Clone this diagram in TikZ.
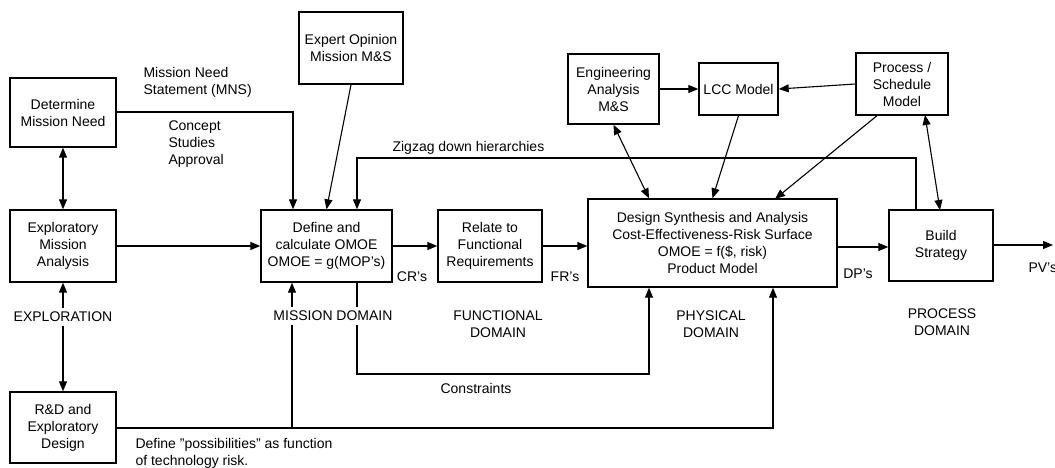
\documentclass[tikz,border=0pt]{standalone}
\usepackage{fontspec}
\setmainfont{Liberation Sans}
\usetikzlibrary{arrows.meta,positioning}

\begin{document}
\begin{tikzpicture}[x=1pt, y=-1pt, line width=1.1pt, >={Triangle[length=10pt,width=8pt]},
box node/.style={draw, line width=1.4pt, align=center, inner sep=0pt, font=\fontsize{14}{17}\selectfont},
text node/.style={inner sep=0pt, font=\fontsize{14}{17}\selectfont},
domain node/.style={align=center, fill=white, inner sep=4pt, font=\fontsize{14}{17}\selectfont}]
\useasboundingbox (0,0) rectangle (1055,468);
\begin{scope}
\node[box node, minimum width=106pt, minimum height=69pt] (need) at (63,112.5) {Determine\\Mission Need};
\node[box node, minimum width=106pt, minimum height=72pt] (explore) at (63,246) {Exploratory\\Mission\\Analysis};
\node[box node, minimum width=106pt, minimum height=71pt] (rnd) at (63,427.5) {R\&D and\\Exploratory\\Design};
\node[box node, minimum width=104pt, minimum height=72pt] (expert) at (351,48) {Expert Opinion\\Mission M\&S};
\node[box node, minimum width=131pt, minimum height=72pt] (omoe) at (326.5,246) {Define and\\calculate OMOE\\OMOE = g(MOP's)};
\node[box node, minimum width=104pt, minimum height=72pt] (relate) at (490,246) {Relate to\\Functional\\Requirements};
\node[box node, minimum width=249pt, minimum height=88pt] (design) at (712.5,243) {Design Synthesis and Analysis\\Cost-Effectiveness-Risk Surface\\OMOE = f(\$, risk)\\Product Model};
\node[box node, minimum width=91pt, minimum height=70pt] (eng) at (613.5,89) {Engineering\\Analysis\\M\&S};
\node[box node, minimum width=79pt, minimum height=52pt] (lcc) at (738.5,89) {LCC Model};
\node[box node, minimum width=92pt, minimum height=62pt] (proc) at (902,84) {Process /\\Schedule\\Model};
\node[box node, minimum width=104pt, minimum height=71pt] (build) at (941,245.5) {Build\\Strategy};
\end{scope}
% bends of the connectors
\coordinate (n1) at (293,112);
\coordinate (z1) at (916,158);
\coordinate (z2) at (357,158);
\coordinate (c1) at (357,374);
\coordinate (c2) at (649,374);
\coordinate (r1) at (292,428);
\coordinate (r2) at (773,428);
\coordinate (d1) at (775,199);
\coordinate (b1) at (925,115);
\coordinate (b2) at (940,210);
\coordinate (pv) at (1053,245);
\begin{scope}
\draw[<->] (need) -- (explore);
\draw[<->] (explore) -- (rnd);
\draw[->] (need.east |- n1) -- (n1) -- (omoe.north -| n1);
\draw[->] (expert.south) -- (omoe.north);
\draw[->] (build.north -| z1) -- (z1) -- (z2) -- (omoe.north -| z2);
\draw[->] (explore.east |- omoe.west) -- (omoe.west);
\draw[->] (omoe.east) -- (relate.west);
\draw[->] (relate.east) -- (design.west |- relate.east);
\draw[->] (design.east |- 0,247) -- (build.west |- 0,247);
\draw[->] (build.east |- pv) -- (pv);
\draw[->] (omoe.south -| c1) -- (c1) -- (c2) -- (design.south -| c2);
\draw[->] (rnd.east |- r1) -- (r2) -- (design.south -| r2);
\draw[->] (r1) -- (omoe.south -| r1);
\draw[<->] (eng.south) -- (design.north -| c2);
\draw[->] (lcc.south) -- (design.north);
\draw[->] (eng.east) -- (lcc.west);
\draw[->] (proc.west) -- (lcc.east);
\draw[->] (proc.south -| 877,0) -- (d1);
\draw[<->] (b1) -- (b2);
\end{scope}
\begin{scope}[every node/.style={text node}]
\node[anchor=west, align=left] (mns) at (143,82) {Mission Need\\Statement (MNS)};
\node[anchor=west, align=left] (csa) at (168,144) {Concept\\Studies\\Approval};
\node[anchor=west] (zig) at (392,148) {Zigzag down hierarchies};
\node (cr) at (412,277) {CR's};
\node (fr) at (565,277) {FR's};
\node (dp) at (858,274) {DP's};
\node[anchor=west] (pvs) at (1028,268) {PV's};
\node (cons) at (476,388) {Constraints};
\node[anchor=west, align=left] (poss) at (135,453) {Define "possibilities" as function\\of technology risk.};
\end{scope}
\begin{scope}[every node/.style={domain node}]
\node (expl) at (63,317) {EXPLORATION};
\node (mdom) at (333,316) {MISSION DOMAIN};
\node (fdom) at (498,324) {FUNCTIONAL\\DOMAIN};
\node (pdom) at (711,324) {PHYSICAL\\DOMAIN};
\node (prdom) at (942,322) {PROCESS\\DOMAIN};
\end{scope}
\end{tikzpicture}
\end{document}
